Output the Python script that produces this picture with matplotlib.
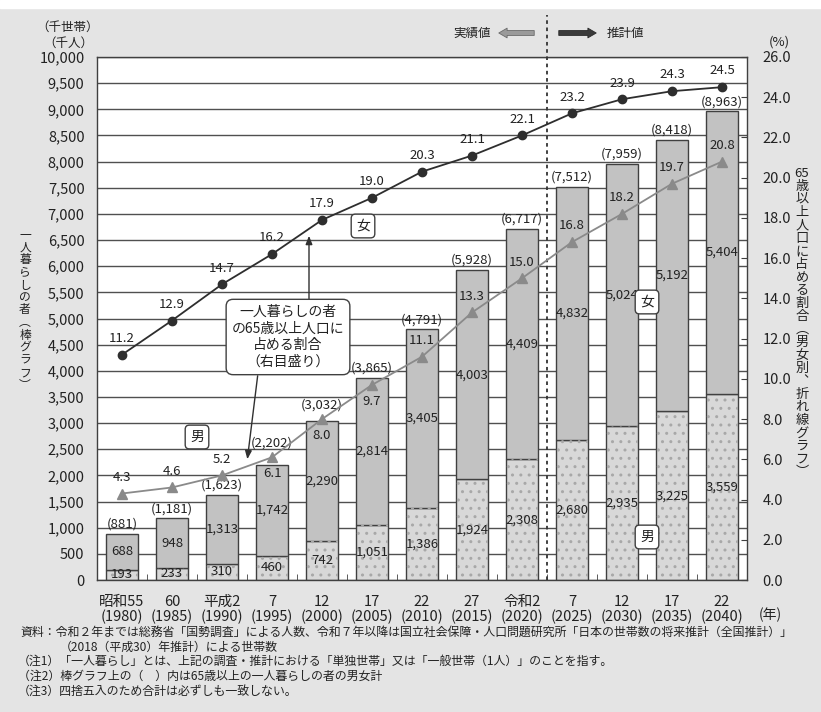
import numpy as np
import matplotlib
matplotlib.use('Agg')
import matplotlib.pyplot as plt
from matplotlib.ticker import FuncFormatter
from matplotlib.patches import Rectangle

plt.rcParams['font.family'] = ['Noto Sans CJK JP', 'DejaVu Sans']

# data
era_labels = ['昭和55', '60', '平成2', '7', '12', '17', '22', '27', '令和2', '7', '12', '17', '22']
year_labels = ['1980', '1985', '1990', '1995', '2000', '2005', '2010', '2015', '2020', '2025', '2030', '2035', '2040']
male = [193, 233, 310, 460, 742, 1051, 1386, 1924, 2308, 2680, 2935, 3225, 3559]
female = [688, 948, 1313, 1742, 2290, 2814, 3405, 4003, 4409, 4832, 5024, 5192, 5404]
total = [881, 1181, 1623, 2202, 3032, 3865, 4791, 5928, 6717, 7512, 7959, 8418, 8963]
female_rate = [11.2, 12.9, 14.7, 16.2, 17.9, 19.0, 20.3, 21.1, 22.1, 23.2, 23.9, 24.3, 24.5]
male_rate = [4.3, 4.6, 5.2, 6.1, 8.0, 9.7, 11.1, 13.3, 15.0, 16.8, 18.2, 19.7, 20.8]

W, H = 821, 712
txt = '#222222'
fig = plt.figure(figsize=(W / 100, H / 100), dpi=100, facecolor='#e4e4e4')
fig.patches.append(Rectangle((0, 1 - 8 / H), 1, 8 / H, transform=fig.transFigure,
                             color='white', zorder=0))

def px(x, y):
    return x / W, 1 - y / H

ax = fig.add_axes([97 / W, 1 - 580 / H, 650 / W, 523 / H])
ax.set_facecolor('white')
x = np.arange(len(era_labels))
bw = 0.63
YMAX, RMAX = 10000, 26

ax.bar(x, male, bw, color='#d8d8d8', edgecolor='#404040', lw=1.0, zorder=2)
ax.bar(x, male, bw, fill=False, edgecolor='#a8a8a8', lw=0, hatch='..', zorder=2.1)
ax.bar(x, female, bw, bottom=male, color='#c2c2c2', edgecolor='#404040', lw=1.0, zorder=2)

ax.set_xlim(-0.5, len(x) - 0.5)
ax.set_ylim(0, YMAX)
ax.set_yticks(np.arange(0, YMAX + 1, 500))
ax.yaxis.set_major_formatter(FuncFormatter(lambda v, p: f'{int(v):,}'))
ax.yaxis.grid(True, color='#505050', lw=1.0)
ax.set_axisbelow(True)
ax.tick_params(axis='y', length=0, pad=9, labelsize=10.5, labelcolor=txt)
ax.set_xticks(x)
ax.set_xticklabels([f'{a}\n({b})' for a, b in zip(era_labels, year_labels)],
                   fontsize=10.5, color=txt, linespacing=1.0)
ax.tick_params(axis='x', length=0, pad=11)
ax.set_xticks(x[:-1] + 0.5, minor=True)
ax.tick_params(axis='x', which='minor', direction='in', length=4, color='#404040')
for s in ax.spines.values():
    s.set_color('#404040')
    s.set_linewidth(1.0)

# bar labels
for i in x:
    ax.text(i, male[i] / 2, f'{male[i]:,}', ha='center', va='center', fontsize=9.5, color=txt, zorder=4)
    ax.text(i, male[i] + female[i] / 2, f'{female[i]:,}', ha='center', va='center',
            fontsize=9.5, color=txt, zorder=4)
    # lift the total above the men's marker when it sits on the bar top
    rate_y = male_rate[i] * YMAX / RMAX
    ty = rate_y + 150 if 0 < rate_y - total[i] < 300 else total[i] + 60
    ax.text(i, ty, f'({total[i]:,})', ha='center', va='bottom', fontsize=9.5,
            color=txt, zorder=4)

# projection divider
ax.axvline(8.5, ymin=0, ymax=(580 - 15) / 523, clip_on=False, color='#333333',
           lw=1.3, ls=(0, (2, 2)), zorder=3)

ax2 = ax.twinx()
ax2.set_ylim(0, RMAX)
ax2.set_yticks(np.arange(0, RMAX + 0.1, 2))
ax2.yaxis.set_major_formatter(FuncFormatter(lambda v, p: f'{v:.1f}'))
ax2.tick_params(axis='y', direction='in', length=4, color='#404040', pad=11,
                labelsize=10.5, labelcolor=txt)
for s in ax2.spines.values():
    s.set_visible(False)

ax2.plot(x, female_rate, '-o', color='#2e2e2e', lw=1.3, ms=6, zorder=5)
ax2.plot(x, male_rate, '-^', color='#8a8a8a', lw=1.3, ms=6.5, zorder=5)
for i in x:
    ax2.annotate(f'{female_rate[i]:.1f}', (i, female_rate[i]), xytext=(0, 7),
                 textcoords='offset points', ha='center', va='bottom', fontsize=9.5, color=txt)
    below = 3 <= i <= 5
    ax2.annotate(f'{male_rate[i]:.1f}', (i, male_rate[i]), xytext=(0, -7 if below else 7),
                 textcoords='offset points', ha='center', va='top' if below else 'bottom',
                 fontsize=9.5, color=txt)

# 女 / 男 tags
tag = dict(boxstyle='round,pad=0.35,rounding_size=0.3', fc='white', ec='#404040', lw=1.0)
for s, (tx, ty) in [('女', (363, 226)), ('男', (197, 437)), ('女', (647, 302)), ('男', (647, 537))]:
    fig.text(*px(tx, ty), s, ha='center', va='center', fontsize=10, color=txt, bbox=tag, zorder=6)

# callout
fig.text(*px(288, 337), '一人暮らしの者\nの65歳以上人口に\n占める割合\n（右目盛り）', ha='center',
         va='center', fontsize=10, color=txt, linespacing=1.25,
         bbox=dict(boxstyle='round,pad=0.4,rounding_size=0.5', fc='white', ec='#404040', lw=1.0),
         zorder=6)
arr = dict(arrowstyle='-|>,head_length=0.5,head_width=0.2', color='#303030', lw=1.0)
ax.annotate('', xy=px(309, 233), xytext=px(309, 302), xycoords='figure fraction',
            textcoords='figure fraction', arrowprops=arr)
ax.annotate('', xy=px(247, 462), xytext=px(258, 373), xycoords='figure fraction',
            textcoords='figure fraction', arrowprops=arr)

# top legend
fig.text(*px(472, 33), '実績値', ha='center', va='center', fontsize=9, color=txt)
fig.text(*px(625, 33), '推計値', ha='center', va='center', fontsize=9, color=txt)
ax.annotate('', xy=px(496, 33), xytext=px(537, 33), xycoords='figure fraction',
            textcoords='figure fraction',
            arrowprops=dict(arrowstyle='simple,head_length=0.6,head_width=0.7,tail_width=0.35',
                            fc='#9a9a9a', ec='#6a6a6a', lw=0.6))
ax.annotate('', xy=px(599, 33), xytext=px(556, 33), xycoords='figure fraction',
            textcoords='figure fraction',
            arrowprops=dict(arrowstyle='simple,head_length=0.6,head_width=0.7,tail_width=0.35',
                            fc='#3a3a3a', ec='#2a2a2a', lw=0.6))

# axis titles
fig.text(*px(68, 27), '（千世帯）', ha='center', va='center', fontsize=9, color=txt)
fig.text(*px(68, 43), '（千人）', ha='center', va='center', fontsize=9, color=txt)
fig.text(*px(779, 42), '(%)', ha='center', va='center', fontsize=9.5, color=txt)
fig.text(*px(770, 615), '(年)', ha='center', va='center', fontsize=10, color=txt)

# vertical (tategaki) axis titles, one character per line
left_title = '\n'.join('一人暮らしの者︵棒グラフ︶')
right_title = '65\n' + '\n'.join('歳以上人口に占める割合︵男女別︑折れ線グラフ︶')
fig.text(*px(25, 310), left_title, ha='center', va='center', fontsize=8.5,
         color=txt, linespacing=0.95)
fig.text(*px(802, 323), right_title, ha='center', va='center', fontsize=9.5,
         color=txt, linespacing=1.0)

# footnotes
notes = [
    (20, 632, '資料：令和２年までは総務省「国勢調査」による人数、令和７年以降は国立社会保障・人口問題研究所「日本の世帯数の将来推計（全国推計）」'),
    (60, 647, '（2018（平成30）年推計）による世帯数'),
    (18, 661, '（注1）「一人暮らし」とは、上記の調査・推計における「単独世帯」又は「一般世帯（1人）」のことを指す。'),
    (18, 676, '（注2）棒グラフ上の（　）内は65歳以上の一人暮らしの者の男女計'),
    (18, 691, '（注3）四捨五入のため合計は必ずしも一致しない。'),
]
for nx, ny, s in notes:
    fig.text(*px(nx, ny), s, ha='left', va='center', fontsize=8.6, color=txt)

fig.savefig('out.png', dpi=100, facecolor=fig.get_facecolor())
